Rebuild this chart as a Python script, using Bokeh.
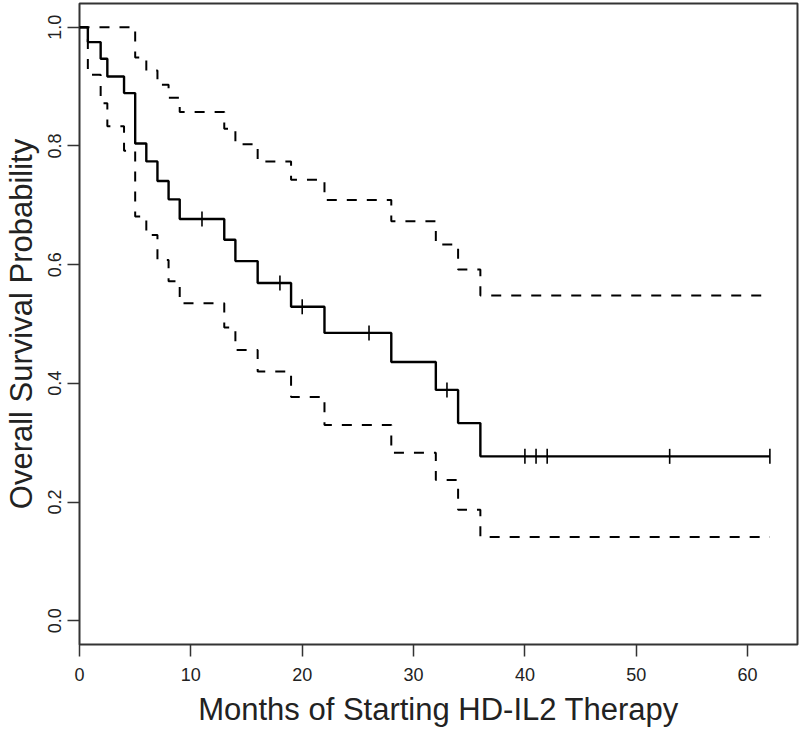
import numpy as np
from bokeh.plotting import figure
from bokeh.models import Range1d, FixedTicker, PrintfTickFormatter
from bokeh.embed import file_html
from bokeh.resources import INLINE

# Kaplan-Meier estimate
event_times = [0, 0.75, 1.9, 2.5, 4, 5, 6, 7, 8, 9, 13, 14, 16, 19, 22, 28, 32, 34, 36]
survival = [1.0, 0.975, 0.947, 0.917, 0.889, 0.804, 0.774, 0.741, 0.710, 0.677,
            0.642, 0.606, 0.569, 0.529, 0.485, 0.436, 0.389, 0.333, 0.277]
upper_ci = [1.0, 1.0, 1.0, 1.0, 1.0, 0.949, 0.927, 0.903, 0.881, 0.857,
            0.829, 0.803, 0.774, 0.743, 0.709, 0.673, 0.634, 0.592, 0.548]
lower_ci = [1.0, 0.920, 0.872, 0.833, 0.792, 0.681, 0.650, 0.608, 0.572, 0.535,
            0.494, 0.456, 0.420, 0.377, 0.330, 0.283, 0.237, 0.187, 0.141]
censor_times = [11, 18, 20, 26, 33, 40, 41, 42, 53, 62]
max_time = 62

x_ticks = [0, 10, 20, 30, 40, 50, 60]
y_ticks = [0.0, 0.2, 0.4, 0.6, 0.8, 1.0]
x_title = "Months of Starting HD-IL2 Therapy"
y_title = "Overall Survival Probability"

FONT = "Liberation Sans"
INK = "#222222"

W, H = 800, 730
ML, MT, MR, MB = 79, 3, 3, 86
x0, x1 = 0, max_time * 1.04
y0, y1 = -0.04, 1.04

p = figure(width=W, height=H, output_backend="svg", toolbar_location=None,
           x_range=Range1d(x0, x1), y_range=Range1d(y0, y1),
           min_border_left=ML, min_border_right=MR, min_border_top=MT,
           min_border_bottom=MB)
p.grid.visible = False
p.background_fill_color = "white"
p.border_fill_color = "white"
p.outline_line_color = "#333333"
p.outline_line_width = 2

for ax in (p.xaxis, p.yaxis):
    ax.axis_line_color = None
    ax.major_tick_line_color = "#333333"
    ax.major_tick_line_width = 1.5
    ax.major_tick_out = 12
    ax.major_tick_in = 0
    ax.minor_tick_line_color = None
    ax.major_label_text_font = FONT
    ax.major_label_text_font_size = "18px"
    ax.major_label_text_color = INK
    ax.axis_label_text_font = FONT
    ax.axis_label_text_font_size = "31px"
    ax.axis_label_text_font_style = "normal"
    ax.axis_label_text_color = INK

p.xaxis.ticker = FixedTicker(ticks=x_ticks)
p.yaxis.ticker = FixedTicker(ticks=y_ticks)
p.yaxis.formatter = PrintfTickFormatter(format="%.1f")
p.yaxis.major_label_orientation = "vertical"
p.xaxis.major_label_standoff = 11
p.yaxis.major_label_standoff = 6
p.xaxis.axis_label_standoff = 8
p.yaxis.axis_label_standoff = 7
p.xaxis.axis_label = x_title
p.yaxis.axis_label = y_title

def extend(ts, vs):
    return list(ts) + [max_time], list(vs) + [vs[-1]]

tx, sy = extend(event_times, survival)
_, uy = extend(event_times, upper_ci)
_, ly = extend(event_times, lower_ci)

p.step(tx, uy, mode="after", line_color="black", line_width=2, line_dash="10 10")
p.step(tx, ly, mode="after", line_color="black", line_width=2, line_dash="10 10")
p.step(tx, sy, mode="after", line_color="black", line_width=2.4)

# censor marks placed on the KM curve
idx = np.searchsorted(np.array(event_times), np.array(censor_times), side="right") - 1
censor_surv = [survival[i] for i in idx]
p.scatter(censor_times, censor_surv, marker="dash", size=15, angle=np.pi / 2,
          line_color="black", line_width=1.6)

open("out.html", "w").write(file_html(p, INLINE))
